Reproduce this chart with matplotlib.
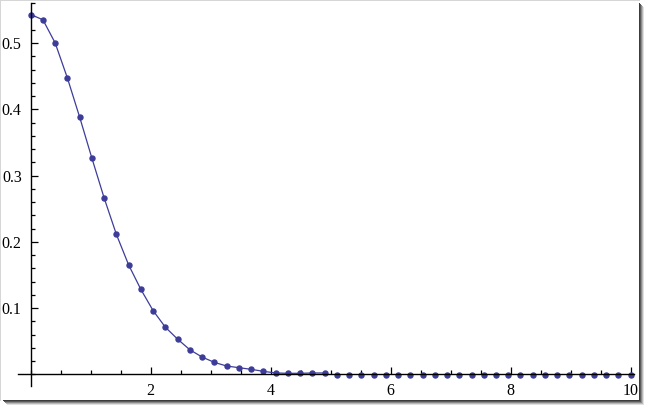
import numpy as np
import matplotlib
matplotlib.use("Agg")
import matplotlib.pyplot as plt
from matplotlib.patches import Rectangle
from matplotlib.ticker import MultipleLocator, FixedLocator

plt.rcParams["font.family"] = ["Liberation Serif", "DejaVu Serif"]

# ---- data ----
x_points = np.linspace(0, 10, 50)
y_points = [0.543, 0.535, 0.500, 0.447, 0.388, 0.326, 0.266, 0.211, 0.165, 0.128,
            0.096, 0.071, 0.053, 0.037, 0.026, 0.018, 0.0125, 0.010, 0.0075, 0.0045,
            0.002, 0.0015, 0.0015, 0.002, 0.002] + [-0.001] * 25
n_curve = 25  # the continuous curve is drawn over the first points only (x <= ~4.9)
x_ticks = [2, 4, 6, 8, 10]
x_tick_labels = ["2", "4", "6", "8", "10"]
y_ticks = [0.1, 0.2, 0.3, 0.4, 0.5]
y_tick_labels = ["0.1", "0.2", "0.3", "0.4", "0.5"]

W, H = 645, 407
fig = plt.figure(figsize=(W / 100, H / 100), dpi=100)
fig.patch.set_facecolor("white")

# frame border and drop shadow
def px_rect(x0, y0, w, h, color):
    fig.patches.append(Rectangle((x0 / W, 1 - (y0 + h) / H), w / W, h / H,
                                 transform=fig.transFigure, facecolor=color,
                                 edgecolor="none", zorder=0))

px_rect(0, 0, 640, 1, "#d6d6d6")
px_rect(0, 0, 1, 401, "#d6d6d6")
shades = ["#3c3c3c", "#5a5a5a", "#8a8a8a", "#b8b8b8", "#e0e0e0"]
for i, c in enumerate(shades):
    px_rect(639 + i, 3 + i, 1, 398, c)
    px_rect(3 + i, 400 + i, 637, 1, c)

left, right, top, bottom = 18, 634, 3, 386
ax = fig.add_axes([left / W, 1 - bottom / H, (right - left) / W, (bottom - top) / H])
ax.set_facecolor("none")

x0_px, x_scale = 30.7, 60.0
y0_px, y_scale = 374.3, 662.6
ax.set_xlim((left - x0_px) / x_scale, (right - x0_px) / x_scale)
ax.set_ylim((y0_px - bottom) / y_scale, (y0_px - top) / y_scale)

color = "#3d3d99"
ax.plot(x_points[:n_curve], y_points[:n_curve], color=color, lw=0.9, zorder=2)
ax.plot(x_points, y_points, linestyle="none", marker="o", ms=3.6,
        color=color, mec=color, zorder=3)

for s in ["top", "right"]:
    ax.spines[s].set_visible(False)
ax.spines["left"].set_position(("data", 0))
ax.spines["bottom"].set_position(("data", 0))
for s in ["left", "bottom"]:
    ax.spines[s].set_linewidth(1.0)
    ax.spines[s].set_color("black")
    ax.spines[s].set_zorder(4)

ax.xaxis.set_major_locator(FixedLocator(x_ticks))
ax.set_xticklabels(x_tick_labels)
ax.xaxis.set_minor_locator(MultipleLocator(0.5))
ax.yaxis.set_major_locator(FixedLocator(y_ticks))
ax.set_yticklabels(y_tick_labels)
ax.yaxis.set_minor_locator(MultipleLocator(0.02))

ax.tick_params(which="both", direction="in", color="black", width=0.9)
ax.tick_params(which="major", length=5.2, labelsize=11.5)
ax.tick_params(axis="x", which="major", pad=6)
ax.tick_params(axis="y", which="major", pad=6.5)
ax.tick_params(which="minor", length=2.6)

fig.savefig("out.png", dpi=100)
